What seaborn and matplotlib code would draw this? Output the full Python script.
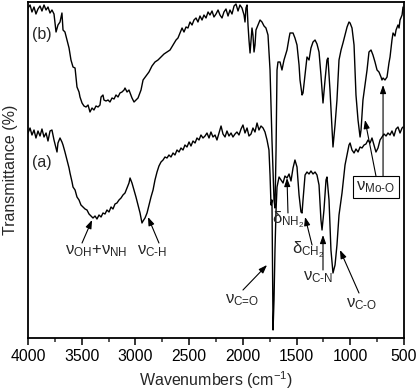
import numpy as np
import pandas as pd
import matplotlib
matplotlib.use("Agg")
import matplotlib.pyplot as plt
import seaborn as sns
from matplotlib.ticker import MultipleLocator

# ---- data ----
wn_b = [4000, 3981, 3963, 3944, 3926, 3907, 3888, 3870, 3851, 3832, 3814, 3795, 3777, 3758, 3739, 3721, 3702, 3684,
        3674, 3656, 3637, 3618, 3600, 3581, 3562, 3544, 3525, 3516, 3497, 3479, 3460, 3441, 3423, 3404, 3386, 3367,
        3348, 3330, 3320, 3302, 3293, 3274, 3255, 3237, 3218, 3199, 3181, 3162, 3144, 3125, 3106, 3097, 3078, 3060,
        3032, 3013, 2995, 2976, 2948, 2929, 2901, 2874, 2846, 2818, 2790, 2762, 2734, 2706, 2678, 2650, 2622, 2604,
        2585, 2566, 2548, 2529, 2511, 2492, 2473, 2455, 2436, 2418, 2399, 2380, 2362, 2343, 2324, 2306, 2287, 2269,
        2250, 2231, 2213, 2194, 2176, 2157, 2138, 2120, 2101, 2082, 2064, 2045, 2027, 2008, 1989, 1980, 1971, 1961,
        1952, 1943, 1933, 1924, 1915, 1906, 1896, 1887, 1878, 1859, 1840, 1822, 1803, 1785, 1766, 1747, 1729, 1710,
        1701, 1691, 1682, 1673, 1654, 1636, 1617, 1589, 1570, 1561, 1533, 1515, 1496, 1477, 1468, 1449, 1440, 1421,
        1403, 1384, 1366, 1347, 1328, 1310, 1291, 1273, 1254, 1235, 1217, 1208, 1189, 1170, 1161, 1142, 1124, 1105,
        1086, 1068, 1049, 1030, 1012, 1002, 984, 965, 947, 928, 909, 900, 882, 863, 844, 826, 807, 789, 770, 751, 733,
        714, 705, 695, 677, 658, 640, 630, 612, 602, 584, 574, 556, 546, 537, 518, 509]
t_b = [330, 333, 326, 331, 324, 329, 332, 327, 333, 328, 331, 325, 328, 324, 306, 313, 316, 325,
       308, 306, 298, 290, 278, 271, 270, 251, 246, 241, 235, 232, 231, 233, 226, 230, 228, 232,
       231, 233, 241, 243, 238, 237, 238, 236, 240, 239, 243, 241, 245, 246, 248, 250, 246, 248,
       240, 236, 238, 240, 248, 258, 262, 266, 272, 276, 278, 281, 284, 286, 288, 293, 298, 300,
       305, 310, 306, 311, 310, 316, 313, 318, 320, 316, 322, 318, 323, 320, 326, 323, 327, 321,
       324, 328, 323, 320, 326, 329, 322, 328, 324, 332, 334, 327, 333, 330, 323, 316, 330, 333,
       313, 298, 285, 298, 310, 303, 286, 293, 308, 313, 318, 316, 312, 310, 303, 268, 198, 138,
       130, 188, 268, 276, 276, 268, 278, 288, 300, 305, 305, 300, 293, 273, 258, 243, 245, 263,
       281, 278, 290, 296, 298, 294, 286, 263, 235, 258, 278, 280, 248, 208, 191, 213, 238, 278,
       288, 295, 303, 311, 316, 315, 310, 293, 243, 218, 201, 208, 238, 253, 268, 286, 288, 283, 276, 268, 266,
       261, 258, 260, 258, 261, 275, 281, 298, 305, 302, 308, 313, 310, 318, 323, 331]

wn_a = [4000, 3981, 3963, 3944, 3926, 3907, 3888, 3870, 3851, 3832, 3814, 3795, 3777, 3758, 3739, 3730, 3721, 3702,
        3684, 3674, 3656, 3637, 3618, 3609, 3590, 3581, 3562, 3544, 3525, 3507, 3488, 3469, 3451, 3432, 3414, 3395,
        3376, 3358, 3339, 3320, 3302, 3283, 3265, 3246, 3227, 3209, 3190, 3172, 3153, 3134, 3116, 3097, 3078, 3060,
        3050, 3032, 3013, 2995, 2976, 2957, 2939, 2929, 2911, 2892, 2874, 2855, 2836, 2818, 2799, 2781, 2762, 2743,
        2725, 2706, 2688, 2669, 2650, 2632, 2613, 2594, 2576, 2557, 2539, 2520, 2501, 2483, 2464, 2445, 2427, 2408,
        2390, 2371, 2352, 2334, 2315, 2297, 2278, 2259, 2241, 2222, 2203, 2185, 2166, 2148, 2129, 2110, 2092, 2073,
        2055, 2036, 2017, 1999, 1980, 1961, 1943, 1924, 1906, 1887, 1868, 1850, 1831, 1812, 1794, 1775, 1757, 1747,
        1738, 1729, 1719, 1710, 1701, 1691, 1682, 1663, 1645, 1626, 1608, 1589, 1570, 1552, 1533, 1515, 1496, 1477,
        1459, 1449, 1440, 1421, 1403, 1384, 1366, 1347, 1328, 1310, 1291, 1273, 1263, 1245, 1226, 1217, 1198, 1180,
        1161, 1142, 1124, 1105, 1077, 1049, 1030, 1012, 1002, 984, 965, 947, 928, 909, 891, 872, 854, 835, 816, 798,
        779, 761, 742, 723, 705, 686, 667, 649, 630, 612, 593, 574, 556, 537, 518, 509]
t_a = [205, 210, 203, 208, 200, 207, 202, 209, 201, 205, 197, 207, 208, 198, 190, 186, 195, 200,
       196, 193, 186, 178, 170, 165, 156, 151, 148, 141, 138, 133, 131, 129, 128, 124, 122, 120,
       122, 119, 123, 121, 125, 124, 128, 126, 131, 129, 134, 135, 138, 140, 143, 145, 150, 155,
       160, 155, 148, 141, 133, 125, 115, 117, 120, 125, 133, 141, 148, 158, 166, 172, 176, 178,
       181, 180, 183, 181, 185, 183, 188, 186, 190, 188, 193, 191, 196, 192, 197, 195, 200, 198,
       203, 200, 202, 205, 200, 206, 201, 203, 198, 205, 212, 204, 201, 207, 202, 205, 201, 204,
       206, 203, 209, 213, 205, 210, 202, 204, 210, 206, 215, 208, 212, 210, 206, 198, 188, 163,
       133, 138, 8, 38, 88, 128, 151, 161, 158, 155, 162, 160, 164, 157, 170, 178, 171, 143,
       126, 125, 138, 163, 166, 164, 167, 164, 166, 163, 153, 118, 108, 128, 158, 161, 138, 88,
       65, 73, 93, 123, 145, 173, 183, 193, 195, 188, 185, 189, 186, 191, 190, 193, 194, 198, 195, 200,
       193, 186, 190, 198, 201, 204, 202, 205, 203, 207, 202, 209, 211, 205, 210, 211]

x_ticks = [4000, 3500, 3000, 2500, 2000, 1500, 1000, 500]
x_label = "Wavenumbers (cm$^{-1}$)"
y_label = "Transmittance (%)"
curve_labels = ["(a)", "(b)"]
peak_labels = ["ν$_{\\text{OH}}$+ν$_{\\text{NH}}$", "ν$_{\\text{C-H}}$", "ν$_{\\text{C=O}}$",
               "δ$_{\\mathrm{NH_2}}$", "δ$_{\\mathrm{CH_2}}$", "ν$_{\\text{C-N}}$",
               "ν$_{\\text{C-O}}$", "ν$_{\\text{Mo-O}}$"]

# ---- style ----
sns.set_style("ticks")
plt.rcParams["font.family"] = ["Liberation Sans", "DejaVu Sans"]
plt.rcParams["mathtext.fontset"] = "custom"
plt.rcParams["mathtext.rm"] = "Liberation Sans"
plt.rcParams["mathtext.it"] = "Liberation Sans"
plt.rcParams["mathtext.bf"] = "Liberation Sans:bold"

fig = plt.figure(figsize=(4.17, 3.92), dpi=100)
ax = fig.add_axes([28 / 417, 1 - 338 / 392, 376 / 417, 336 / 392])

df = pd.concat([
    pd.DataFrame({"wn": wn_a, "T": t_a, "s": "a"}),
    pd.DataFrame({"wn": wn_b, "T": t_b, "s": "b"}),
])
sns.lineplot(data=df, x="wn", y="T", units="s", estimator=None, sort=False,
             color="black", lw=1.0, ax=ax, legend=False)

ax.set_xlim(4000, 500)
ax.set_ylim(0, 336)
ax.set_xticks(x_ticks)
ax.set_xticklabels([str(v) for v in x_ticks])
ax.xaxis.set_minor_locator(MultipleLocator(250))
ax.set_yticks([])
ax.tick_params(axis="x", which="major", direction="out", length=5, width=1.1, labelsize=11.3, pad=3, colors="black")
ax.tick_params(axis="x", which="minor", direction="out", length=3, width=1.1)
for sp in ax.spines.values():
    sp.set_visible(True)
    sp.set_linewidth(1.3)
    sp.set_color("black")
ax.set_xlabel(x_label, fontsize=11.5, labelpad=4)
ax.set_ylabel(y_label, fontsize=11.5, labelpad=7)

fs = 12
ax.text(3870, 175, curve_labels[0], fontsize=11.5, ha="center", va="center")
ax.text(3870, 304, curve_labels[1], fontsize=11.5, ha="center", va="center")

arrow = dict(arrowstyle="-|>,head_length=0.5,head_width=0.18", color="black", lw=0.8, shrinkA=0, shrinkB=0)
ann = [
    (peak_labels[0], (3367, 87), (3497, 95), (3404, 118)),
    (peak_labels[1], (2846, 87), (2781, 95), (2883, 121)),
    (peak_labels[2], (2008, 38), (1999, 48), (1775, 73)),
    (peak_labels[3], (1580, 118), (1580, 125), (1589, 160)),
    (peak_labels[4], (1394, 88), (1356, 93), (1421, 121)),
    (peak_labels[5], (1300, 61), (1254, 68), (1254, 103)),
    (peak_labels[6], (891, 34), (919, 45), (1096, 88)),
]
for txt, pos, start, tip in ann:
    ax.text(pos[0], pos[1], txt, fontsize=fs, ha="center", va="center")
    ax.annotate("", xy=tip, xytext=start, arrowprops=arrow)

ax.text(761, 151, peak_labels[7], fontsize=fs, ha="center", va="center",
        bbox=dict(boxstyle="square,pad=0.2", fc="white", ec="black", lw=0.8))
ax.annotate("", xy=(863, 218), xytext=(761, 162), arrowprops=arrow)
ax.annotate("", xy=(695, 253), xytext=(695, 162), arrowprops=arrow)

fig.savefig("out.png", dpi=100)
